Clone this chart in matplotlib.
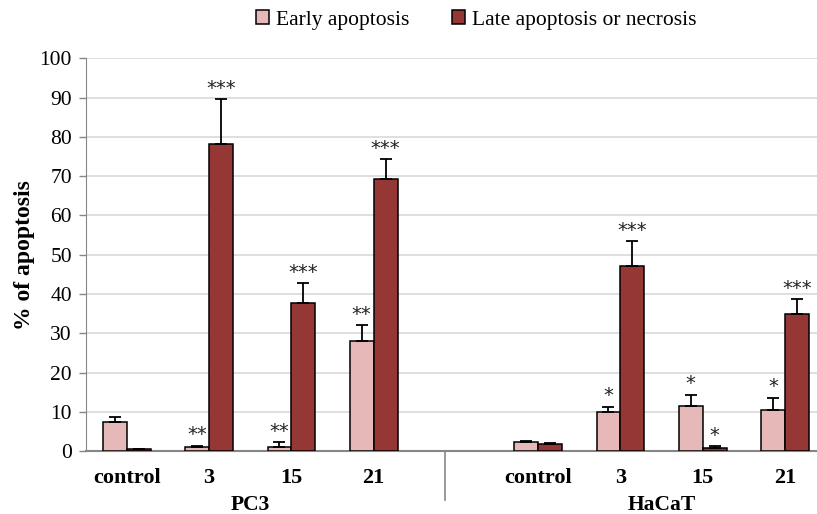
import matplotlib.pyplot as plt
import numpy as np
from matplotlib.lines import Line2D

plt.rcParams['font.family'] = ['Liberation Serif', 'DejaVu Serif']

# categories (slot 4 left empty between the two cell lines)
positions = [0, 1, 2, 3, 5, 6, 7, 8]
cat_labels = ['control', '3', '15', '21', 'control', '3', '15', '21']
groups = ['PC3', 'HaCaT']

early = [7.5, 1.1, 1.1, 28.1, 2.3, 9.9, 11.6, 10.4]
early_err = [1.15, 0.3, 1.2, 4.0, 0.2, 1.4, 2.8, 3.2]
late = [0.5, 78.1, 37.8, 69.2, 1.9, 47.2, 0.9, 34.9]
late_err = [0.1, 11.5, 4.9, 5.1, 0.3, 6.3, 0.45, 3.8]

early_sig = ['', '**', '**', '**', '', '*', '*', '*']
late_sig = ['', '***', '***', '***', '', '***', '*', '***']

c_early = '#E6B9B8'
c_late = '#953735'

fig = plt.figure(figsize=(8.17, 5.14), dpi=100)
ax = fig.add_axes([0.105, 0.122, 0.895, 0.7646])

x = np.array(positions, dtype=float)
w = 0.29

ax.bar(x - w / 2, early, w, color=c_early, edgecolor='black', linewidth=1.1,
       yerr=[np.zeros(len(early)), early_err], capsize=4,
       error_kw=dict(elinewidth=1.3, capthick=1.3, ecolor='black'),
       label='Early apoptosis', zorder=3)
ax.bar(x + w / 2, late, w, color=c_late, edgecolor='black', linewidth=1.1,
       yerr=[np.zeros(len(late)), late_err], capsize=4,
       error_kw=dict(elinewidth=1.3, capthick=1.3, ecolor='black'),
       label='Late apoptosis or necrosis', zorder=3)

# significance stars above the error bars
for xi, v, e, s in zip(x - w / 2, early, early_err, early_sig):
    if s:
        ax.annotate(s, (xi, v + e), xytext=(0, 1), textcoords='offset points',
                    ha='center', va='bottom', fontsize=14,
                    family='DejaVu Sans', color='#222222')
for xi, v, e, s in zip(x + w / 2, late, late_err, late_sig):
    if s:
        ax.annotate(s, (xi, v + e), xytext=(0, 1), textcoords='offset points',
                    ha='center', va='bottom', fontsize=14,
                    family='DejaVu Sans', color='#222222')

ax.set_xlim(-0.5, 8.39)
ax.set_ylim(0, 100)
ax.set_yticks(np.arange(0, 101, 10))
ax.yaxis.grid(True, color='#D9D9D9', linewidth=1.2, zorder=0)
ax.set_axisbelow(True)

ax.set_xticks(x)
ax.set_xticklabels(cat_labels, fontweight='bold', fontsize=16)
ax.tick_params(axis='x', length=0, pad=12)
ax.tick_params(axis='y', length=5, width=1, color='#868686',
               labelsize=15.5, pad=5)

for side in ['top', 'right']:
    ax.spines[side].set_visible(False)
ax.spines['left'].set_color('#868686')
ax.spines['bottom'].set_color('#868686')
ax.spines['bottom'].set_linewidth(1.5)

ax.set_ylabel('% of apoptosis', fontweight='bold', fontsize=17, labelpad=3)

# group labels and separator under the axis
ax.text(1.5, -0.137, groups[0], transform=ax.get_xaxis_transform(),
        ha='center', va='center', fontweight='bold', fontsize=15.5)
ax.text(6.5, -0.137, groups[1], transform=ax.get_xaxis_transform(),
        ha='center', va='center', fontweight='bold', fontsize=15.5)
ax.add_line(Line2D([3.87, 3.87], [0, -0.124], transform=ax.get_xaxis_transform(),
                   color='#868686', linewidth=1.2, clip_on=False))

fig.legend(loc='center', bbox_to_anchor=(0.583, 0.961), ncol=2, frameon=False,
           fontsize=15.5, handlelength=0.6, handleheight=0.6, handletextpad=0.3,
           columnspacing=2.0)

fig.savefig('out.png', dpi=100)
